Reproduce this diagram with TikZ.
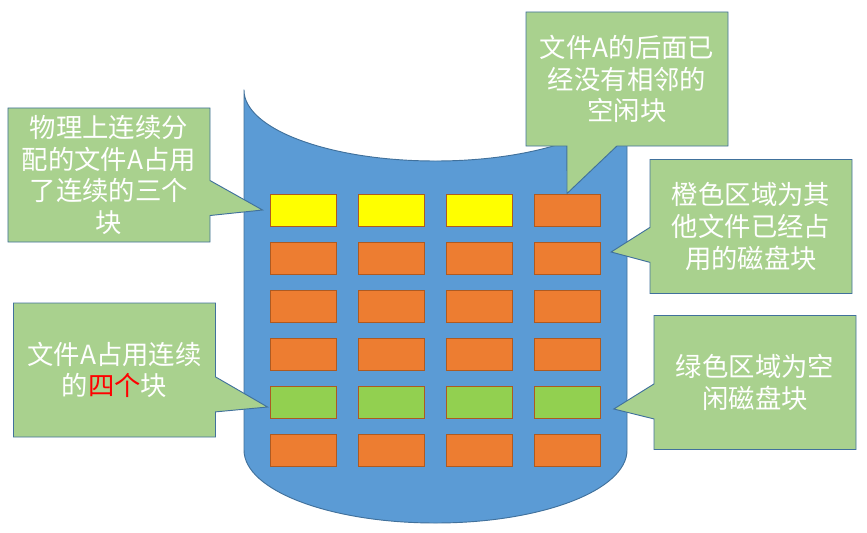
\documentclass[tikz,border=0pt]{standalone}
\usepackage{fontspec}
\usepackage{tikz}
\usetikzlibrary{shapes.callouts}
\newfontfamily\cjk{Noto Sans CJK SC}
\definecolor{cylfill}{HTML}{5B9BD5}
\definecolor{cylline}{HTML}{41719C}
\definecolor{notefill}{HTML}{A9D18E}
\definecolor{blkorange}{HTML}{ED7D31}
\definecolor{blkline}{HTML}{AE5A21}
\definecolor{blkyellow}{HTML}{FFFF00}
\definecolor{blkgreen}{HTML}{92D050}

\begin{document}
\begin{tikzpicture}[x=0.03cm,y=-0.03cm,line width=0.8pt,
      blk/.style={rectangle,draw=blkline,minimum width=1.98cm,minimum height=0.96cm,inner sep=0pt},
      note/.style={rectangle callout,draw=cylline,fill=notefill,text=white,align=center,
        minimum width=6.06cm,minimum height=4.02cm,inner sep=0pt,callout pointer width=1.05cm,
        font=\cjk\fontsize{22.5}{27}\selectfont}]
  \useasboundingbox (0,0) rectangle (867,533);
  % disk
  \draw[draw=cylline,fill=cylfill] (244,90) -- (244,450)
    arc[start angle=180,end angle=360,x radius=5.745cm,y radius=2.19cm]
    -- (627,90)
    arc[start angle=0,end angle=-180,x radius=5.745cm,y radius=2.13cm] -- cycle;
  % blocks
  \foreach \r in {1,...,6}
    \foreach \c in {1,...,4}{
      \def\blkcol{blkorange}
      \ifnum\r=5 \def\blkcol{blkgreen}\fi
      \ifnum\r=1 \ifnum\c<4 \def\blkcol{blkyellow}\fi\fi
      \node[blk,fill=\blkcol] (b\r\c) at ({303+88*(\c-1)},{210+48*(\r-1)}) {};
    }
  % notes
  \node[note,callout absolute pointer={([xshift=-0.21cm]b11.west)}] (used3) at (109,175)
    {物理上连续分\\配的文件A占用\\了连续的三个\\块};
  \node[note,callout pointer width=1.5cm,callout absolute pointer={(b14.north)}] (nofree) at (627,79)
    {文件A的后面已\\经没有相邻的\\空闲块};
  \node[note,callout absolute pointer={([xshift=0.32cm,yshift=0.18cm]b24.east)}] (other) at (751,226.5)
    {橙色区域为其\\他文件已经占\\用的磁盘块};
  \node[note,callout absolute pointer={([xshift=0.4cm,yshift=-0.21cm]b54.east)}] (free) at (755,382.5)
    {绿色区域为空\\闲磁盘块};
  \node[note,callout absolute pointer={([xshift=-0.06cm,yshift=-0.15cm]b51.west)}] (used4) at (114.5,370)
    {文件A占用连续\\的{\color{red}四个}块};
\end{tikzpicture}
\end{document}
